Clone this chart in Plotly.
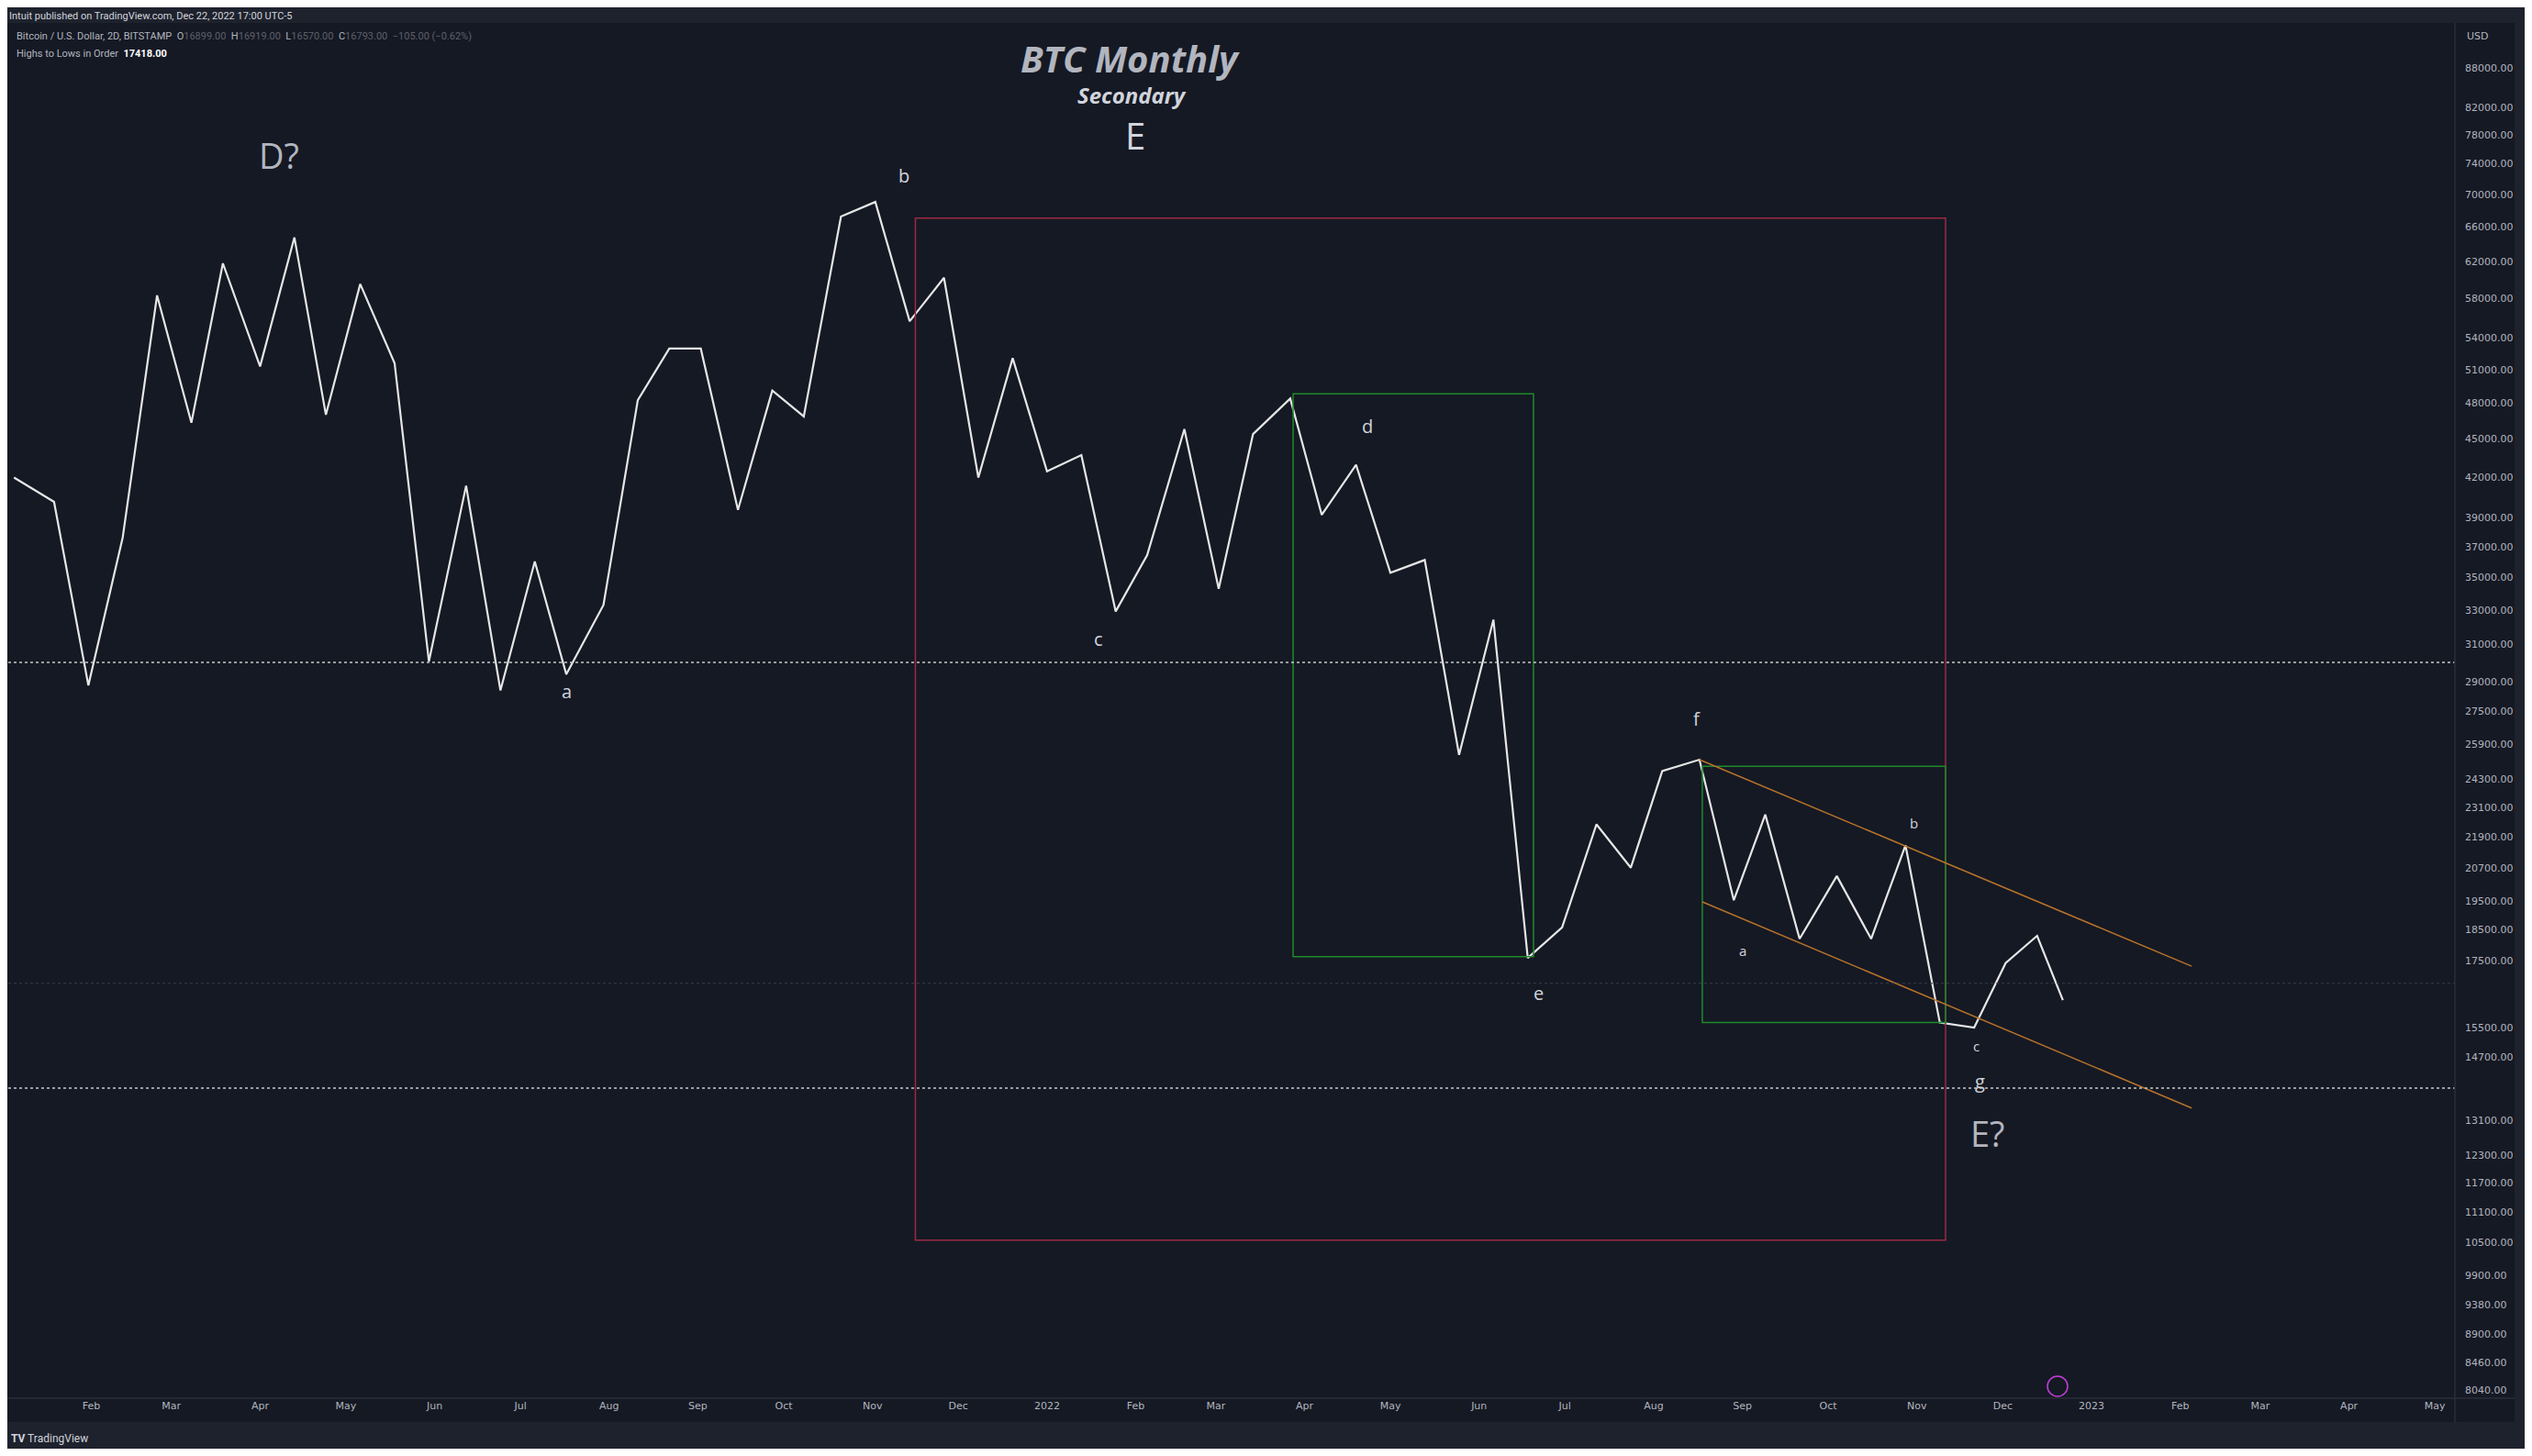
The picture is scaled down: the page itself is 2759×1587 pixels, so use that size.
import plotly.graph_objects as go

dates = ["2021-01-05","2021-01-19","2021-01-31","2021-02-12","2021-02-24","2021-03-08","2021-03-19","2021-04-01",
"2021-04-13","2021-04-24","2021-05-06","2021-05-18","2021-05-30","2021-06-12","2021-06-24","2021-07-06","2021-07-17",
"2021-07-30","2021-08-11","2021-08-22","2021-09-02","2021-09-15","2021-09-27","2021-10-08","2021-10-21","2021-11-02",
"2021-11-14","2021-11-26","2021-12-08","2021-12-20","2022-01-01","2022-01-13","2022-01-25","2022-02-05","2022-02-18",
"2022-03-02","2022-03-14","2022-03-27","2022-04-07","2022-04-19","2022-05-01","2022-05-13","2022-05-25","2022-06-06",
"2022-06-18","2022-06-30","2022-07-12","2022-07-24","2022-08-04","2022-08-17","2022-08-29","2022-09-09","2022-09-21",
"2022-10-04","2022-10-16","2022-10-28","2022-11-09","2022-11-21","2022-12-02","2022-12-13","2022-12-22"]
prices = [41940,40140,28790,37640,58320,46320,61810,51290,64770,46990,59530,51600,30070,41330,28530,36030,29380,
33300,48250,52970,52970,39560,49090,46850,67280,69070,55660,60220,41940,52060,42420,43680,32920,36450,45780,
34290,45380,48390,39210,42920,35300,36130,25390,32430,17580,18580,22390,20700,24660,25170,19520,22790,18200,
20390,18200,21560,15640,15500,17420,18300,16290]

y_ticks = [88000,82000,78000,74000,70000,66000,62000,58000,54000,51000,48000,45000,42000,39000,37000,35000,33000,
31000,29000,27500,25900,24300,23100,21900,20700,19500,18500,17500,15500,14700,13100,12300,11700,11100,10500,
9900,9380,8900,8460,8040]
x_tickvals = ["2021-02-01","2021-03-01","2021-04-01","2021-05-01","2021-06-01","2021-07-01","2021-08-01","2021-09-01",
"2021-10-01","2021-11-01","2021-12-01","2022-01-01","2022-02-01","2022-03-01","2022-04-01","2022-05-01","2022-06-01",
"2022-07-01","2022-08-01","2022-09-01","2022-10-01","2022-11-01","2022-12-01","2023-01-01","2023-02-01","2023-03-01",
"2023-04-01","2023-05-01"]
x_ticktext = ["Feb","Mar","Apr","May","Jun","Jul","Aug","Sep","Oct","Nov","Dec","2022","Feb","Mar","Apr","May","Jun",
"Jul","Aug","Sep","Oct","Nov","Dec","2023","Feb","Mar","Apr","May"]

level_hi = 30021.56
level_lo = 13892.69
last_price = 16793.00

BG = "#151924"
TXT = "#b2b5be"
OFF = 8  # page body margin
W, H = 2759 - 2 * OFF, 1587 - 2 * OFF
L, R, T, B = 9 - OFF, 2675 - OFF, 25 - OFF, 1524 - OFF
S = 2759 / 1568

def fx(xf):
    return (xf - OFF - L) / (R - L)

def fy(yf):
    return (B - (yf - OFF)) / (B - T)

def px(xd):
    return fx(xd * S)

def py(yd):
    return fy(yd * S)

fig = go.Figure()
fig.add_trace(go.Scatter(x=dates, y=prices, mode="lines", line=dict(color="#e6e6e6", width=2.2),
                         hoverinfo="skip", showlegend=False))

shapes = []
shapes.append(dict(type="rect", xref="x", yref="y", x0="2021-11-16", x1="2022-11-11", y0=10550, y1=67080,
                   line=dict(color="#9c2a44", width=1.5)))
shapes.append(dict(type="rect", xref="x", yref="y", x0="2022-03-28", x1="2022-06-20", y0=17620, y1=48810,
                   line=dict(color="#1f8a2a", width=1.5)))
shapes.append(dict(type="rect", xref="x", yref="y", x0="2022-08-18", x1="2022-11-11", y0=15640, y1=24870,
                   line=dict(color="#1f8a2a", width=1.5)))
shapes.append(dict(type="line", xref="x", yref="y", x0="2022-08-17", x1="2023-02-05", y0=25170, y1=17320,
                   line=dict(color="#b8732a", width=1.5)))
shapes.append(dict(type="line", xref="x", yref="y", x0="2022-08-18", x1="2023-02-05", y0=19460, y1=13400,
                   line=dict(color="#b8732a", width=1.5)))
for lv in (level_hi, level_lo):
    shapes.append(dict(type="line", xref="paper", yref="y", x0=0, x1=1, y0=lv, y1=lv,
                       line=dict(color="#c8c8c8", width=1.5, dash="dot")))
shapes.append(dict(type="line", xref="paper", yref="y", x0=0, x1=1, y0=last_price, y1=last_price,
                   line=dict(color="#3a3e4a", width=1, dash="dot")))
shapes.append(dict(type="line", xref="paper", yref="paper", x0=1, x1=1, y0=fy(1550), y1=1.0,
                   line=dict(color="#2a2e39", width=1.5)))
shapes.append(dict(type="line", xref="paper", yref="paper", x0=fx(0), x1=fx(2740), y0=0, y1=0,
                   line=dict(color="#2a2e39", width=1.5)))
shapes.append(dict(type="rect", xref="paper", yref="paper", x0=fx(0), x1=fx(2759), y0=fy(25), y1=fy(0),
                   fillcolor="#1e222d", line=dict(width=0), layer="below"))
shapes.append(dict(type="rect", xref="paper", yref="paper", x0=fx(0), x1=fx(2759), y0=fy(1587), y1=fy(1550),
                   fillcolor="#1e222d", line=dict(width=0), layer="below"))
shapes.append(dict(type="rect", xref="paper", yref="paper", x0=fx(2740), x1=fx(2759), y0=fy(1587), y1=fy(0),
                   fillcolor="#1e222d", line=dict(width=0), layer="below"))
shapes.append(dict(type="circle", xref="paper", yref="paper", x0=fx(2231), x1=fx(2253), y0=fy(1522), y1=fy(1500),
                   line=dict(color="#c23fd8", width=1.5)))

ann = []
def lab(xd, yd, text, size, color="#d1d4dc", italic=False, bold=False):
    t = text
    if bold:
        t = "<b>" + t + "</b>"
    if italic:
        t = "<i>" + t + "</i>"
    ann.append(dict(x=px(xd), y=py(yd), xref="paper", yref="paper", xanchor="center", yanchor="middle",
                    text=t, showarrow=False, font=dict(size=size, color=color, family="Open Sans")))

lab(700, 36, "BTC Monthly", 40, "#b2b5be", italic=True, bold=True)
lab(701, 59, "Secondary", 24, "#d1d4dc", italic=True, bold=True)
lab(703, 84, "E", 40, "#d1d4dc")
lab(173, 96, "D?", 38, "#b2b5be")
lab(1231, 702, "E?", 38, "#b2b5be")
lab(560, 109, "b", 20)
lab(351, 428, "a", 20)
lab(680, 396, "c", 20)
lab(847, 264, "d", 20)
lab(953, 615, "e", 20)
lab(1051, 445, "f", 20)
lab(1226, 670, "g", 20)
lab(1185, 510, "b", 15)
lab(1079, 589, "a", 15)
lab(1224, 648, "c", 15)

def txt_at(xf, yf, text, size, color, family="Roboto", anchor="left"):
    ann.append(dict(x=fx(xf), y=fy(yf), xref="paper", yref="paper", xanchor=anchor, yanchor="middle",
                    text=text, showarrow=False, font=dict(size=size, color=color, family=family)))

txt_at(8, 17, "Intuit published on TradingView.com, Dec 22, 2022 17:00 UTC-5", 11, "#d1d4dc")
txt_at(16, 40, "Bitcoin / U.S. Dollar, 2D, BITSTAMP  O<span style='color:#5d606b'>16899.00</span>  H<span style='color:#5d606b'>16919.00</span>  L<span style='color:#5d606b'>16570.00</span>  C<span style='color:#5d606b'>16793.00  −105.00 (−0.62%)</span>", 11, "#b2b5be")
txt_at(16, 58, "Highs to Lows in Order  <b><span style='color:#ffffff'>17418.00</span></b>", 11, "#b2b5be")
txt_at(2686, 40, "USD", 11, TXT, "DejaVu Sans")
txt_at(10, 1568, "<b>TV</b> TradingView", 12, "#d1d4dc")

for lv, t, bg, fc in [(level_hi, "30021.56", "#9598a1", "#131722"), (level_lo, "13892.69", "#9598a1", "#131722"),
                      (last_price, "<b>16793.00</b><br>01:59:09", "#4a4e5a", "#ffffff")]:
    ann.append(dict(x=1.0, y=lv, xref="paper", yref="y", xanchor="left", yanchor="middle", text=t,
                    showarrow=False, bgcolor=bg, borderpad=2, font=dict(size=11, color=fc, family="DejaVu Sans")))

fig.update_layout(
    width=W, height=H, paper_bgcolor=BG, plot_bgcolor=BG,
    margin=dict(l=L, r=W - R, t=T, b=H - B, autoexpand=False),
    shapes=shapes, annotations=ann, showlegend=False,
    xaxis=dict(type="date", range=["2021-01-03", "2023-05-08"], tickvals=x_tickvals, ticktext=x_ticktext,
               showgrid=False, zeroline=False, tickfont=dict(size=11, color=TXT, family="DejaVu Sans"), ticks="",
               automargin=False),
    yaxis=dict(type="log", side="right", range=[3.899, 4.980], tickvals=y_ticks,
               ticktext=[f"{v:.2f}" for v in y_ticks], showgrid=False, zeroline=False, automargin=False,
               tickfont=dict(size=11, color=TXT, family="DejaVu Sans"), ticks="", ticklabelstandoff=10),
)
fig.write_html("out.html")
